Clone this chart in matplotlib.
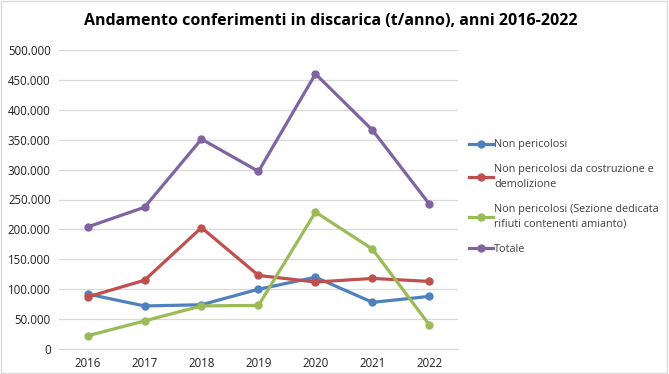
import numpy as np
import matplotlib
matplotlib.use("Agg")
import matplotlib.pyplot as plt
from matplotlib.ticker import FuncFormatter

years = ["2016", "2017", "2018", "2019", "2020", "2021", "2022"]
non_pericolosi = [92000, 72000, 74000, 100000, 120000, 78000, 88000]
costruzione = [87000, 115000, 203000, 123000, 112000, 118000, 113000]
amianto = [22000, 47000, 72000, 73000, 229000, 167000, 40000]
totale = [204000, 237000, 351000, 297000, 460000, 366000, 242000]

labels = ["Non pericolosi",
          "Non pericolosi da costruzione e\ndemolizione",
          "Non pericolosi (Sezione dedicata\nrifiuti contenenti amianto)",
          "Totale"]
colors = ["#4F81BD", "#C0504D", "#9BBB59", "#8064A2"]

plt.rcParams['font.family'] = ['Open Sans', 'DejaVu Sans']

fig = plt.figure(figsize=(6.69, 3.74), dpi=100)
ax = fig.add_axes([59 / 669, 1 - 349 / 374, (458 - 59) / 669, (349 - 50) / 374])

x = np.arange(len(years))
for series, lab, col in zip([non_pericolosi, costruzione, amianto, totale], labels, colors):
    ax.plot(x, series, color=col, lw=2.3, marker="o", ms=5, label=lab)

ax.set_xlim(-0.5, len(years) - 0.5)
ax.set_ylim(0, 500000)
ax.set_yticks(np.arange(0, 500001, 50000))
ax.yaxis.set_major_formatter(FuncFormatter(lambda v, p: "0" if v == 0 else f"{int(v):,}".replace(",", ".")))
ax.set_xticks(x)
ax.set_xticklabels(years)
ax.grid(axis="y", color="#d9d9d9", lw=0.9)
ax.set_axisbelow(True)
for s in ["top", "right", "left"]:
    ax.spines[s].set_visible(False)
ax.spines["bottom"].set_color("#d9d9d9")
ax.tick_params(length=0, labelsize=8.3, colors="#222222", pad=6)

fig.text(0.495, 1 - 21 / 374, "Andamento conferimenti in discarica (t/anno), anni 2016-2022",
         ha="center", va="center", fontsize=11.5, fontweight="bold")

leg = ax.legend(loc="upper left", bbox_to_anchor=(465 / 669, 1 - 135 / 374), bbox_transform=fig.transFigure,
                frameon=False, fontsize=7.8, handlelength=2.2, handletextpad=0.1, labelspacing=1.3,
                borderaxespad=0)
for t in leg.get_texts():
    t.set_color("#404040")
    t.set_linespacing(1.45)

# outer border
fig.patches.append(plt.Rectangle((0.002, 0.003), 0.995, 0.994, transform=fig.transFigure,
                                 fill=False, edgecolor="#d9d9d9", lw=1))

fig.savefig("out.png", dpi=100)
